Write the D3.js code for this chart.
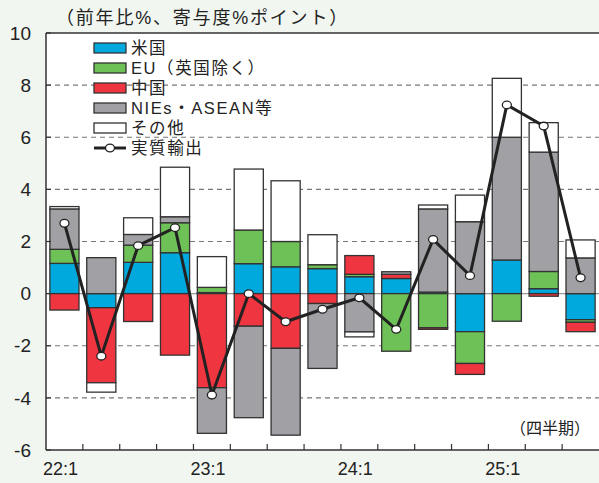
<!DOCTYPE html>
<html lang="ja">
<head>
<meta charset="UTF-8">
<title>実質輸出</title>
<script src="https://d3js.org/d3.v7.min.js"></script>
<style>
  html, body { margin: 0; padding: 0; }
  body { background: #f1f6f0; }
  svg { display: block; font-family: "Liberation Sans", "Noto Sans CJK JP", sans-serif; }
</style>
</head>
<body>
<svg width="599" height="483"></svg>
<script>
// quarters 22:1 .. 25:3
const quarters = ["22:1","22:2","22:3","22:4","23:1","23:2","23:3","23:4",
                  "24:1","24:2","24:3","24:4","25:1","25:2","25:3"];
const tickLabels = ["22:1", "23:1", "24:1", "25:1"];
const yTicks = [-6, -4, -2, 0, 2, 4, 6, 8, 10];

// contributions (% points)
const usa    = [1.16, -0.54, 1.20, 1.57, 0.04, 1.15, 1.03, 0.96, 0.65, 0.58, 0.06, -1.46, 1.29, 0.19, -1.00];
const eu     = [0.54, 0.00, 0.66, 1.15, 0.20, 1.29, 0.97, 0.15, 0.09, -2.21, -1.31, -1.22, -1.06, 0.66, -0.10];
const china  = [-0.63, -2.88, -1.07, -2.36, -3.61, -1.25, -2.10, -0.38, 0.72, 0.16, -0.06, -0.42, 0.00, -0.10, -0.36];
const nies   = [1.55, 1.38, 0.41, 0.23, -1.75, -3.51, -3.33, -2.49, -1.47, 0.10, 3.19, 2.76, 4.71, 4.58, 1.37];
const others = [0.09, -0.36, 0.64, 1.90, 1.18, 2.34, 2.33, 1.15, -0.19, 0.00, 0.15, 1.02, 2.26, 1.13, 0.69];
// real exports (y/y %)
const exportsReal = [2.70, -2.40, 1.84, 2.53, -3.89, 0.00, -1.08, -0.60, -0.16, -1.37, 2.08, 0.69, 7.24, 6.43, 0.61];

const seriesNames = ["米国", "EU（英国除く）", "中国", "NIEs・ASEAN等", "その他"];
const seriesColors = ["#00a9dd", "#6dc156", "#ee3540", "#a1a1a5", "#ffffff"];
const lineName = "実質輸出";

const table = quarters.map((q, i) => ({
  q, s0: usa[i], s1: eu[i], s2: china[i], s3: nies[i], s4: others[i]
}));

const margin = { left: 46, right: 0, top: 33, bottom: 33 };
const W = 599, H = 483;

const svg = d3.select("svg");

const x = d3.scaleBand().domain(quarters).range([margin.left, W]).paddingInner(0.21).paddingOuter(0.105);
const y = d3.scaleLinear().domain([-6, 10]).range([H - margin.bottom, margin.top]);

// plot background
svg.append("rect")
  .attr("x", margin.left).attr("y", margin.top)
  .attr("width", W - margin.left).attr("height", y(-6) - margin.top)
  .attr("fill", "#fff");

// gridlines
svg.append("g")
  .selectAll("line")
  .data(yTicks.filter(t => t > -6 && t < 10))
  .join("line")
  .attr("x1", margin.left).attr("x2", W)
  .attr("y1", d => y(d)).attr("y2", d => y(d))
  .attr("stroke", d => d === 0 ? "#999" : "#777")
  .attr("stroke-width", 1.2)
  .attr("stroke-dasharray", d => d === 0 ? null : "5,4");

// stacked bars (diverging)
const keys = ["s0", "s1", "s2", "s3", "s4"];
const stacked = d3.stack().keys(keys).offset(d3.stackOffsetDiverging)(table);

svg.append("g")
  .selectAll("g")
  .data(stacked)
  .join("g")
  .attr("fill", (d, i) => seriesColors[i])
  .selectAll("rect")
  .data(d => d.filter(p => p[1] !== p[0]))
  .join("rect")
  .attr("x", d => x(d.data.q))
  .attr("width", x.bandwidth())
  .attr("y", d => y(Math.max(d[0], d[1])))
  .attr("height", d => Math.abs(y(d[0]) - y(d[1])))
  .attr("stroke", "#333")
  .attr("stroke-width", 1.3);

// real exports line
const line = d3.line()
  .x((d, i) => x(quarters[i]) + x.bandwidth() / 2)
  .y(d => y(d));

svg.append("path")
  .datum(exportsReal)
  .attr("d", line)
  .attr("fill", "none")
  .attr("stroke", "#222")
  .attr("stroke-width", 3);

svg.append("g")
  .selectAll("ellipse")
  .data(exportsReal)
  .join("ellipse")
  .attr("cx", (d, i) => x(quarters[i]) + x.bandwidth() / 2)
  .attr("cy", d => y(d))
  .attr("rx", 4.5).attr("ry", 3.8)
  .attr("fill", "#fff")
  .attr("stroke", "#222")
  .attr("stroke-width", 1.3);

// axes frame
svg.append("line")
  .attr("x1", margin.left).attr("x2", W)
  .attr("y1", margin.top).attr("y2", margin.top)
  .attr("stroke", "#333").attr("stroke-width", 1.5);
svg.append("line")
  .attr("x1", margin.left).attr("x2", margin.left)
  .attr("y1", margin.top).attr("y2", y(-6))
  .attr("stroke", "#333").attr("stroke-width", 1.5);
svg.append("line")
  .attr("x1", margin.left).attr("x2", W)
  .attr("y1", y(-6)).attr("y2", y(-6))
  .attr("stroke", "#333").attr("stroke-width", 1.5);

// y ticks + labels
const yAxis = svg.append("g");
yAxis.selectAll("line")
  .data(yTicks)
  .join("line")
  .attr("x1", margin.left).attr("x2", margin.left + 5)
  .attr("y1", d => y(d)).attr("y2", d => y(d))
  .attr("stroke", "#333").attr("stroke-width", 1.2);
yAxis.selectAll("text")
  .data(yTicks)
  .join("text")
  .attr("x", 31)
  .attr("y", d => y(d))
  .attr("dy", "0.35em")
  .attr("text-anchor", "end")
  .attr("font-size", 19)
  .attr("fill", "#222")
  .text(d => d);

// x ticks (quarter boundaries) pointing up
const step = x.step();
svg.append("g")
  .selectAll("line")
  .data(quarters.slice(1))
  .join("line")
  .attr("x1", d => x(d) - step * 0.105)
  .attr("x2", d => x(d) - step * 0.105)
  .attr("y1", y(-6)).attr("y2", y(-6) - 6)
  .attr("stroke", "#333").attr("stroke-width", 1.2);

svg.append("g")
  .selectAll("text")
  .data(tickLabels)
  .join("text")
  .attr("x", d => x(d) + x.bandwidth() / 2 - 4)
  .attr("y", 475)
  .attr("text-anchor", "middle")
  .attr("font-size", 18)
  .attr("fill", "#222")
  .text(d => d);

// titles
svg.append("text")
  .attr("x", 56).attr("y", 24)
  .attr("font-size", 18)
  .attr("letter-spacing", 1.8)
  .attr("fill", "#222")
  .text("（前年比%、寄与度%ポイント）");

svg.append("text")
  .attr("x", 590).attr("y", 434)
  .attr("text-anchor", "end")
  .attr("font-size", 16)
  .attr("fill", "#222")
  .text("（四半期）");

// legend
const legend = svg.append("g").attr("transform", "translate(94,48)");
seriesNames.forEach((name, i) => {
  const g = legend.append("g").attr("transform", `translate(0,${i * 20})`);
  g.append("rect")
    .attr("x", 0).attr("y", -5)
    .attr("width", 32).attr("height", 10)
    .attr("fill", seriesColors[i])
    .attr("stroke", "#333").attr("stroke-width", 1.3);
  g.append("text")
    .attr("x", 37).attr("y", 0).attr("dy", "0.36em")
    .attr("font-size", 16.5).attr("letter-spacing", 1.6).attr("fill", "#222")
    .text(name);
});
const lg = legend.append("g").attr("transform", `translate(0,${5 * 20})`);
lg.append("line")
  .attr("x1", 0).attr("x2", 32).attr("y1", 0).attr("y2", 0)
  .attr("stroke", "#222").attr("stroke-width", 3);
lg.append("ellipse")
  .attr("cx", 16).attr("cy", 0).attr("rx", 4.5).attr("ry", 3.8)
  .attr("fill", "#fff").attr("stroke", "#222").attr("stroke-width", 1.3);
lg.append("text")
  .attr("x", 37).attr("y", 0).attr("dy", "0.36em")
  .attr("font-size", 16.5).attr("letter-spacing", 1.6).attr("fill", "#222")
  .text(lineName);
</script>
</body>
</html>
